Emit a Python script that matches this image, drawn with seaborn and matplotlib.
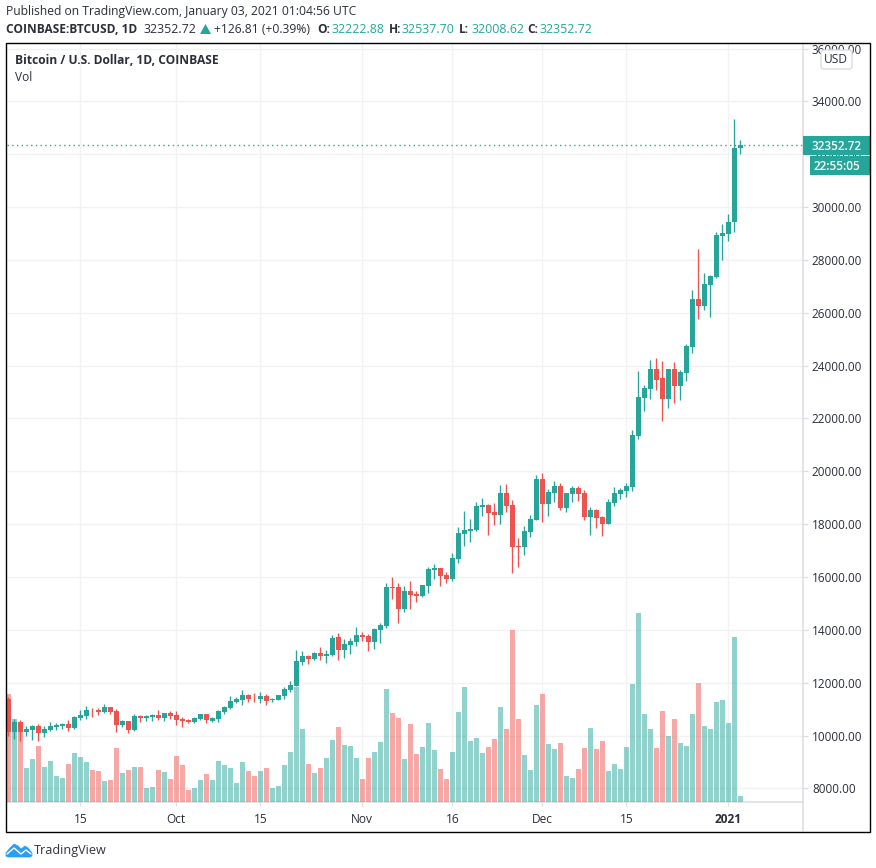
import matplotlib
matplotlib.use("Agg")
import matplotlib.pyplot as plt
from matplotlib.patches import Rectangle, FancyBboxPatch, Polygon
from matplotlib.lines import Line2D
import numpy as np
import pandas as pd
import seaborn as sns

# Daily candles, 3 Sep 2020 .. 3 Jan 2021
opens = [11382,10145,10499,10133,10208,10360,10095,10208,10322,10360,
 10435,10284,10663,10738,10978,10978,10890,11079,10928,10398,
 10549,10208,10738,10663,10701,10776,10663,10852,
 10776,10625,10587,10511,10625,10814,10549,10625,10890,11041,
 11269,11344,11534,11433,11382,11496,11344,11344,11496,11723,
 11874,12801,13028,12915,13142,13028,13066,13748,13255,13445,13558,
 13823,13785,13558,14013,14164,15640,15640,14808,15489,15375,
 15300,15678,16284,16360,16095,15924,16681,17628,17741,17779,
 18650,18726,18461,18347,19180,18726,17161,17136,17704,18158,
 19710,18764,19180,19445,18612,19142,19369,19180,18272,18537,
 18272,18007,18802,19142,19256,19407,21338,22777,23117,23875,
 23520,22725,23861,23218,23710,24694,26511,26246,27041,27344,28896,
 28972,29427,32222.88]
highs = [11450,10625,10587,10360,10398,10435,10360,10511,10461,10486,
 10587,10738,10966,11117,11041,11041,11193,11079,11003,10587,
 10549,10814,10776,10776,10814,10966,10852,10928,
 10928,10701,10625,10701,10814,10814,10701,10966,11117,11496,
 11458,11723,11571,11609,11647,11571,11420,11534,11836,12064,
 13255,13218,13066,13180,13369,13255,13823,13899,13672,13710,14126,
 13937,13861,14088,14278,15792,16019,15792,15678,15868,15489,
 15716,16398,16511,16360,16208,16909,17893,18499,18196,18840,
 18991,18764,18802,19483,19521,18915,17477,17931,18347,19862,
 19937,19332,19635,19559,19180,19445,19445,19294,18650,18574,
 18309,18953,19407,19369,19559,21565,23799,23269,24216,24291,
 24164,23861,24126,23823,24808,26852,28404,27496,27420,29048,29351,
 29729,33326,32537.70]
lows = [9994,9868,9792,9981,9830,9792,9943,10170,10208,10246,
 10170,10246,10587,10625,10701,10776,10852,10814,10133,10322,
 10095,10170,10511,10549,10549,10587,10549,10625,
 10398,10322,10473,10473,10587,10473,10511,10511,10814,11003,
 11231,11155,11269,11269,11231,11155,11269,11344,11382,11647,
 11874,12688,12725,12877,12877,12763,13028,12877,12953,13104,13407,
 13596,13218,13293,13520,14088,15186,14278,14694,14808,15073,
 15262,15413,15943,15678,15792,15849,16530,17174,17325,17741,
 18309,17590,17969,18007,18461,16151,16379,16833,17514,18158,
 18082,18309,18840,18537,18461,18840,18877,18158,17590,17855,
 17552,18007,18688,18953,19029,19256,21225,22285,22739,23080,
 21892,22385,22574,22688,23407,24467,25754,26095,25830,27306,27988,
 28707,29048,32008.62]
closes = [10145,10499,10145,10246,10360,10095,10246,10360,10398,10435,
 10284,10701,10776,10966,10953,10890,11079,10890,10398,10549,
 10208,10738,10663,10738,10776,10663,10852,10738,
 10587,10549,10511,10663,10814,10587,10663,10928,11079,11306,
 11382,11534,11382,11407,11496,11306,11382,11534,11761,11912,
 12839,13028,12915,13142,13028,13104,13710,13255,13483,13596,13823,
 13748,13558,14050,14202,15640,15603,14808,15489,15338,15300,
 15716,16322,16360,16057,15943,16719,17666,17779,17817,18688,
 18726,18423,18347,19180,18688,17136,17136,17741,18196,19710,
 18764,19218,19445,18612,19180,19369,19142,18272,18537,18234,
 18007,18840,19180,19294,19445,21376,22815,23155,23875,23458,
 22725,23861,23218,23748,24732,26511,26246,27079,27382,28934,29010,
 29427,32222.88,32352.72]
volumes = [21.7,16.7,16.1,6.9,8.7,11.3,7.1,8.3,5.3,4.9,7.7,9.9,9.1,8.1,6.5,6.3,4.3,4.5,10.9,5.9,6.5,7.1,7.1,2.9,3.1,6.5,6.1,4.7,
 9.3,7.5,2.5,2.9,4.5,5.7,4.5,8.3,7.5,6.9,3.9,8.1,6.3,5.3,6.3,6.9,2.9,3.3,7.5,10.1,23.1,14.6,7.6,5.8,6.8,8.8,12.4,15.0,11.4,11.2,8.8,
 4.6,8.8,10.0,12.0,22.6,17.8,16.8,8.6,15.6,9.6,11.0,15.8,10.4,6.6,4.6,10.0,18.0,23.0,12.2,12.8,9.8,11.0,12.6,19.0,14.6,34.4,16.6,9.4,6.4,19.4,
 21.6,11.6,10.6,11.8,5.2,4.8,6.6,10.8,14.8,10.6,12.2,6.2,7.6,6.6,11.0,23.6,37.8,17.6,14.6,10.8,18.2,13.2,16.6,11.8,11.2,17.6,23.8,15.2,14.6,20.0,20.4,
 15.8,33.0,1.2]
price_ticks = [8000,10000,12000,14000,16000,18000,20000,22000,24000,26000,28000,30000,32000,34000,36000]
date_ticks = ["2020-09-15","2020-10-01","2020-10-15","2020-11-01","2020-11-16","2020-12-01","2020-12-15","2021-01-01"]
date_labels = ["15","Oct","15","Nov","16","Dec","15","2021"]
last_price = 32352.72

UP, DOWN = "#26a69a", "#ef5350"
GRID, AXIS, TXT = "#f2f2f3", "#dcdde0", "#2a2e39"
FONT = "Open Sans"

sns.set_theme(style="white")
plt.rcParams["font.family"] = [FONT, "DejaVu Sans"]

W, H = 876, 868
dates = pd.date_range("2020-09-03", periods=len(closes), freq="D")
df = pd.DataFrame({"day": np.arange(len(closes)), "open": opens, "high": highs, "low": lows,
                   "close": closes, "volume": volumes})
df["dir"] = np.where(df["close"] >= df["open"], "up", "down")
tick_days = [(pd.Timestamp(d) - dates[0]).days for d in date_ticks]

def fx(x): return x / W
def fy(y): return 1 - y / H

fig = plt.figure(figsize=(W / 100, H / 100), dpi=100, facecolor="white")
rect = [fx(6.5), fy(802.3), (803 - 6.5) / W, (802.3 - 43) / H]
ax = fig.add_axes(rect, zorder=1)
axv = fig.add_axes(rect, zorder=2, sharex=ax, facecolor="none")
axc = fig.add_axes(rect, zorder=3, sharex=ax, sharey=ax, facecolor="none")

# Volume
sns.barplot(data=df, x="day", y="volume", hue="dir", hue_order=["up", "down"],
            palette={"up": UP, "down": DOWN}, native_scale=True, dodge=False, width=0.83,
            saturation=1, alpha=0.5, linewidth=0, legend=False, ax=axv)
axv.set_ylim(0, (802.3 - 43) / 5)

# Candles
for d, col in (("up", UP), ("down", DOWN)):
    s = df[df["dir"] == d]
    axc.vlines(s["day"], s["low"], s["high"], color=col, lw=0.95, zorder=2)
    axc.bar(s["day"], (s["close"] - s["open"]).abs().clip(lower=25),
            bottom=s[["open", "close"]].min(axis=1), width=0.83, color=col, linewidth=0, zorder=3)
axc.axhline(last_price, color=UP, ls=(0, (1, 2.4)), lw=1.0, zorder=1)

# Scales
ax.set_xlim(-0.3, 132.45)
ax.set_ylim(7475, 36210)
for a in (axv, axc):
    a.set_xlabel(""); a.set_ylabel("")
    a.tick_params(left=False, right=False, bottom=False, top=False,
                  labelleft=False, labelright=False, labelbottom=False)
    for sp in a.spines.values():
        sp.set_visible(False)
    a.grid(False)

ax.yaxis.tick_right()
ax.set_yticks(price_ticks)
ax.set_yticklabels([f"{v:.2f}" for v in price_ticks], fontsize=8.5, color=TXT, family=FONT)
ax.set_xticks(tick_days)
ax.set_xticklabels(date_labels, fontsize=8.6, color=TXT, family=FONT)
ax.get_xticklabels()[-1].set_fontweight("bold")
ax.tick_params(axis="y", length=3.6, width=0.9, color=AXIS, pad=2.8, right=True)
ax.tick_params(axis="x", length=3, width=0.9, color=AXIS, pad=5, bottom=True)
ax.grid(True, color=GRID, lw=1.0)
ax.set_axisbelow(True)
for name, sp in ax.spines.items():
    sp.set_visible(name in ("bottom", "right"))
    sp.set_color(AXIS); sp.set_linewidth(1.1)

# Frame and price-axis extension
fig.add_artist(Line2D([fx(803), fx(803)], [fy(802), fy(831)], color=AXIS, lw=1.1, zorder=1))
fig.add_artist(Rectangle((fx(6.3), fy(831.5)), (869.5 - 6.3) / W, (831.5 - 43.3) / H, fill=False,
                         edgecolor="black", lw=1.0, transform=fig.transFigure, zorder=8))

def text(x, y, s, **kw):
    kw.setdefault("fontsize", 8.6); kw.setdefault("color", TXT); kw.setdefault("va", "center")
    return fig.text(fx(x), fy(y), s, zorder=7, **kw)

# Last-price tags
for x0, y0, y1 in ((803, 136, 155), (810, 156, 175)):
    fig.add_artist(Rectangle((fx(x0), fy(y1)), (869.5 - x0) / W, (y1 - y0) / H, facecolor=UP,
                             edgecolor="none", transform=fig.transFigure, zorder=6))
text(812, 146.2, f"{last_price:.2f}", color="white", fontweight="semibold", fontsize=8.5)
text(814, 166.2, "22:55:05", color="white", fontweight="semibold", fontsize=8.5)

# USD button
fig.add_artist(FancyBboxPatch((fx(821), fy(69)), 31 / W, 19 / H,
                              boxstyle="round,pad=0,rounding_size=0.003", facecolor="white",
                              edgecolor="#d8d8e0", lw=0.9, transform=fig.transFigure, zorder=6))
text(836.3, 59.8, "USD", ha="center", fontsize=8.6)

# Header
text(6, 12, "Published on TradingView.com, January 03, 2021 01:04:56 UTC", fontsize=8.75)
text(6, 29.5, "COINBASE:BTCUSD, 1D", fontweight="bold", fontsize=8.6)
text(144, 29.5, "32352.72", fontsize=8.9)
fig.add_artist(Polygon([[fx(200), fy(34)], [fx(211), fy(34)], [fx(205.5), fy(24)]], facecolor=UP,
                       edgecolor="none", transform=fig.transFigure, zorder=7))
text(214, 29.5, "+126.81 (+0.39%)", fontsize=8.7)
for xl, lab, xv, val in ((317, "O:", 332, "32222.88"), (389, "H:", 402, "32537.70"),
                         (459, "L:", 471, "32008.62"), (527, "C:", 539, "32352.72")):
    text(xl, 29.5, lab, fontweight="bold", fontsize=8.6)
    text(xv, 29.5, val, color=UP, fontsize=8.9)

# Legend inside the pane
text(15, 60.8, "Bitcoin / U.S. Dollar, 1D, COINBASE", fontweight="bold", fontsize=8.65)
text(15, 77.8, "Vol", fontsize=8.6)

# Footer
cloud = [(6, 853), (10, 848), (14, 844), (18, 846), (21, 849), (25, 846), (28, 848), (32, 853),
         (32, 856), (30, 857), (8, 857), (6, 856)]
fig.add_artist(Polygon([[fx(a), fy(b)] for a, b in cloud], facecolor="#2a9df4", edgecolor="#2a9df4",
                       lw=0.5, joinstyle="round", transform=fig.transFigure, zorder=7))
fig.add_artist(Line2D([fx(v) for v in (7, 14, 21, 26, 31)], [fy(v) for v in (854, 848, 854, 850, 854)],
                      color="white", lw=1.0, zorder=8))
text(34, 850.8, "TradingView", fontsize=9.1, color="#30333c")

fig.savefig("out.png", dpi=100, facecolor="white")
